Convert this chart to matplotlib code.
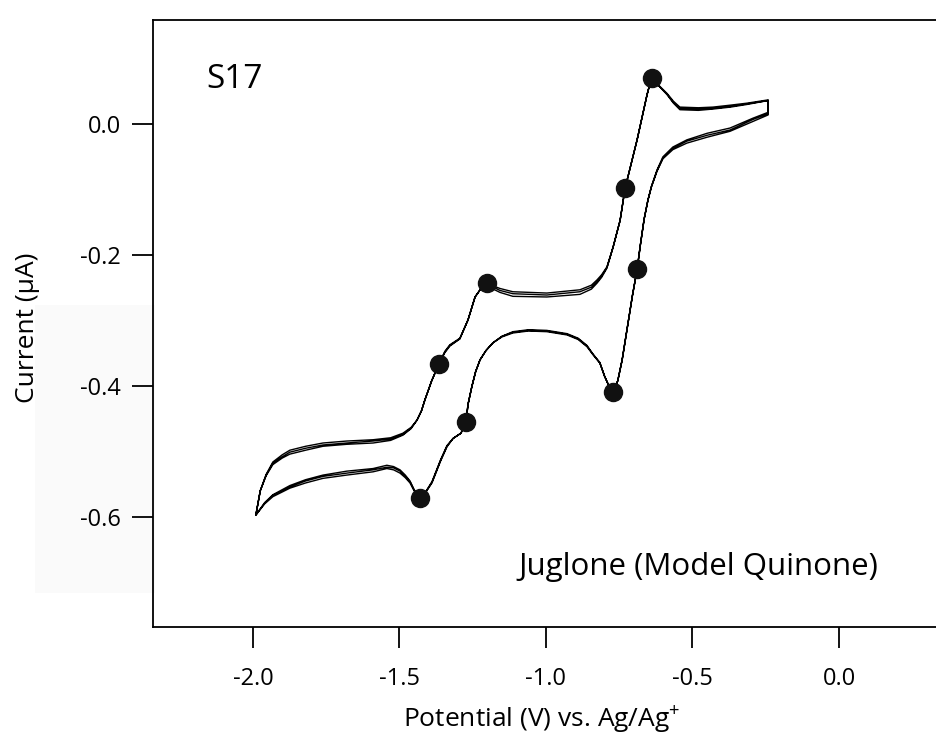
import numpy as np
import matplotlib
matplotlib.use("Agg")
import matplotlib.pyplot as plt
from matplotlib.patches import Rectangle

plt.rcParams["font.family"] = ["Open Sans", "DejaVu Sans"]
plt.rcParams["mathtext.fontset"] = "custom"
plt.rcParams["mathtext.rm"] = "Open Sans"
plt.rcParams["axes.unicode_minus"] = False

# Cathodic (negative-going) sweep, cycle 1: potential (V) and current (uA)
neg_v = [-0.242, -0.294, -0.372, -0.450, -0.519, -0.567, -0.601, -0.621, -0.640, -0.652,
         -0.665, -0.678, -0.689, -0.705, -0.722, -0.740, -0.755, -0.771, -0.785, -0.800,
         -0.816, -0.840, -0.860, -0.890, -0.928, -0.997, -1.060, -1.113, -1.150, -1.181,
         -1.205, -1.225, -1.240, -1.253, -1.266, -1.273, -1.290, -1.317, -1.338, -1.360,
         -1.389, -1.410, -1.430, -1.450, -1.464, -1.480, -1.498, -1.520, -1.543, -1.590,
         -1.680, -1.761, -1.820, -1.874, -1.932, -1.960, -1.990]
neg_i = [0.018, 0.009, -0.006, -0.014, -0.024, -0.035, -0.050, -0.070, -0.095, -0.116,
         -0.145, -0.185, -0.222, -0.262, -0.310, -0.360, -0.392, -0.409, -0.400, -0.385,
         -0.365, -0.352, -0.340, -0.329, -0.322, -0.317, -0.316, -0.319, -0.325, -0.334,
         -0.346, -0.360, -0.378, -0.401, -0.428, -0.455, -0.472, -0.480, -0.493, -0.515,
         -0.548, -0.562, -0.571, -0.560, -0.548, -0.540, -0.533, -0.528, -0.526, -0.531,
         -0.536, -0.541, -0.548, -0.556, -0.569, -0.580, -0.597]

# Anodic (positive-going) sweep, cycle 1
pos_v = [-1.990, -1.975, -1.955, -1.932, -1.900, -1.874, -1.820, -1.761, -1.680, -1.590,
         -1.530, -1.488, -1.460, -1.440, -1.425, -1.413, -1.390, -1.365, -1.345, -1.328,
         -1.294, -1.266, -1.242, -1.220, -1.201, -1.180, -1.157, -1.113, -0.997, -0.884,
         -0.845, -0.826, -0.810, -0.792, -0.771, -0.747, -0.730, -0.689, -0.655, -0.645,
         -0.638, -0.612, -0.587, -0.565, -0.543, -0.480, -0.430, -0.370, -0.314, -0.242]
pos_i = [-0.597, -0.560, -0.535, -0.516, -0.505, -0.498, -0.492, -0.487, -0.484, -0.482,
         -0.479, -0.472, -0.463, -0.452, -0.438, -0.421, -0.392, -0.366, -0.347, -0.337,
         -0.327, -0.299, -0.264, -0.250, -0.243, -0.247, -0.251, -0.256, -0.258, -0.253,
         -0.246, -0.238, -0.230, -0.218, -0.188, -0.147, -0.098, -0.024, 0.045, 0.062,
         0.070, 0.058, 0.047, 0.035, 0.026, 0.025, 0.026, 0.029, 0.032, 0.037]

# Current drift of cycles 2 and 3 relative to cycle 1 (uA)
neg_drift2 = [-0.002, -0.002, -0.003, -0.003, -0.002, -0.002, -0.002, -0.001, 0.0, 0.0,
              0.0, 0.0, 0.0, 0.0, 0.0, 0.0, 0.0, 0.0, 0.0, 0.0,
              0.0, 0.001, 0.001, 0.001, 0.001, 0.001, 0.001, 0.001, 0.001, 0.0,
              0.0, 0.0, 0.0, 0.0, 0.0, 0.0, 0.0, 0.0, 0.001, 0.001,
              0.001, 0.0, 0.0, 0.001, 0.002, 0.002, 0.003, 0.003, 0.002, 0.003,
              0.003, 0.003, 0.003, 0.002, 0.002, 0.001, 0.0]
neg_drift3 = [-0.004, -0.005, -0.005, -0.006, -0.005, -0.004, -0.003, -0.002, -0.001, 0.0,
              0.0, 0.0, 0.0, 0.0, 0.0, 0.0, 0.0, 0.0, 0.0, 0.0,
              0.001, 0.001, 0.002, 0.002, 0.002, 0.002, 0.002, 0.002, 0.001, 0.0,
              0.0, 0.0, 0.0, 0.0, 0.0, 0.0, 0.0, 0.0, 0.002, 0.002,
              0.002, 0.001, 0.0, 0.002, 0.003, 0.004, 0.005, 0.005, 0.005, 0.005,
              0.006, 0.005, 0.005, 0.004, 0.003, 0.002, 0.0]
pos_drift2 = [0.0, 0.0, -0.001, -0.002, -0.003, -0.003, -0.003, -0.003, -0.003, -0.002,
              -0.002, -0.002, -0.001, 0.0, 0.0, 0.0, 0.0, 0.0, -0.001, -0.001,
              -0.001, 0.0, 0.0, 0.0, 0.0, -0.002, -0.003, -0.003, -0.003, -0.003,
              -0.003, -0.003, -0.002, -0.001, 0.0, 0.0, 0.0, 0.0, 0.0, 0.0,
              0.0, -0.001, -0.001, -0.002, -0.002, -0.002, -0.002, -0.002, -0.001, -0.001]
pos_drift3 = [0.0, 0.0, -0.002, -0.004, -0.005, -0.006, -0.006, -0.005, -0.005, -0.005,
              -0.004, -0.003, -0.002, 0.0, 0.0, 0.0, 0.0, 0.0, -0.002, -0.002,
              -0.001, 0.0, 0.0, 0.0, 0.0, -0.005, -0.006, -0.007, -0.006, -0.007,
              -0.006, -0.005, -0.004, -0.002, 0.0, 0.0, 0.0, 0.0, 0.0, 0.0,
              0.0, -0.001, -0.002, -0.003, -0.004, -0.004, -0.003, -0.003, -0.002, -0.001]

# Marked points on the voltammogram
mark_v = [-0.638, -0.730, -0.689, -0.771, -1.201, -1.365, -1.273, -1.430]
mark_i = [0.070, -0.098, -0.222, -0.409, -0.243, -0.366, -0.455, -0.571]

x_ticks = [-2.0, -1.5, -1.0, -0.5, 0.0]
y_ticks = [0.0, -0.2, -0.4, -0.6]

# Build the three consecutive cycles as one continuous trace
cyc_v, cyc_i = [], []
for nd, pd_ in [(None, None), (neg_drift2, pos_drift2), (neg_drift3, pos_drift3)]:
    ni = np.array(neg_i) + (np.array(nd) if nd is not None else 0.0)
    pi = np.array(pos_i) + (np.array(pd_) if pd_ is not None else 0.0)
    cyc_v += list(neg_v) + list(pos_v)
    cyc_i += list(ni) + list(pi)

fig = plt.figure(figsize=(9.36, 7.39), dpi=100)
W, H = 936, 739

# faint grey backing panel on the left margin
fig.patches.append(Rectangle((35 / W, 1 - 593 / H), (155 - 35) / W, (593 - 305) / H,
                             transform=fig.transFigure, facecolor="#fafafa",
                             edgecolor="none", zorder=-5))

ax = fig.add_axes([153 / W, 1 - 627 / H, (936 - 153) / W, (627 - 20) / H])
ax.patch.set_alpha(0.0)

ax.plot(cyc_v, cyc_i, color="black", lw=1.0, solid_joinstyle="round", zorder=2)
ax.plot(mark_v, mark_i, linestyle="none", marker="o", ms=13, color="#111111", zorder=3)

ax.set_xlim(-2.341, 0.331)
ax.set_ylim(-0.768, 0.159)

ax.set_xticks(x_ticks)
ax.set_xticklabels([f"{t:.1f}" for t in x_ticks])
ax.set_yticks(y_ticks)
ax.set_yticklabels([f"{t:.1f}" for t in y_ticks])

ax.tick_params(axis="x", direction="out", length=15, width=1.3, pad=14, labelsize=17)
ax.tick_params(axis="y", direction="out", length=15, width=1.3, pad=8, labelsize=17)

for side in ["left", "top", "bottom"]:
    ax.spines[side].set_linewidth(1.3)
ax.spines["right"].set_visible(False)

ax.set_xlabel(r"Potential (V) vs. Ag/Ag$^{+}$", fontsize=19)
ax.xaxis.set_label_coords((542 - 153) / 783, (627 - 703) / 607)
ax.set_ylabel("Current (\u00b5A)", fontsize=19)
ax.yaxis.set_label_coords((40 - 153) / 783, (627 - 328) / 607)

ax.text((206 - 153) / 783, (627 - 88) / 607, "S17", transform=ax.transAxes,
        fontsize=24, ha="left", va="baseline")
ax.text((518 - 153) / 783, (627 - 575) / 607, "Juglone (Model Quinone)",
        transform=ax.transAxes, fontsize=22.5, ha="left", va="baseline")

fig.savefig("out.png", dpi=100)
